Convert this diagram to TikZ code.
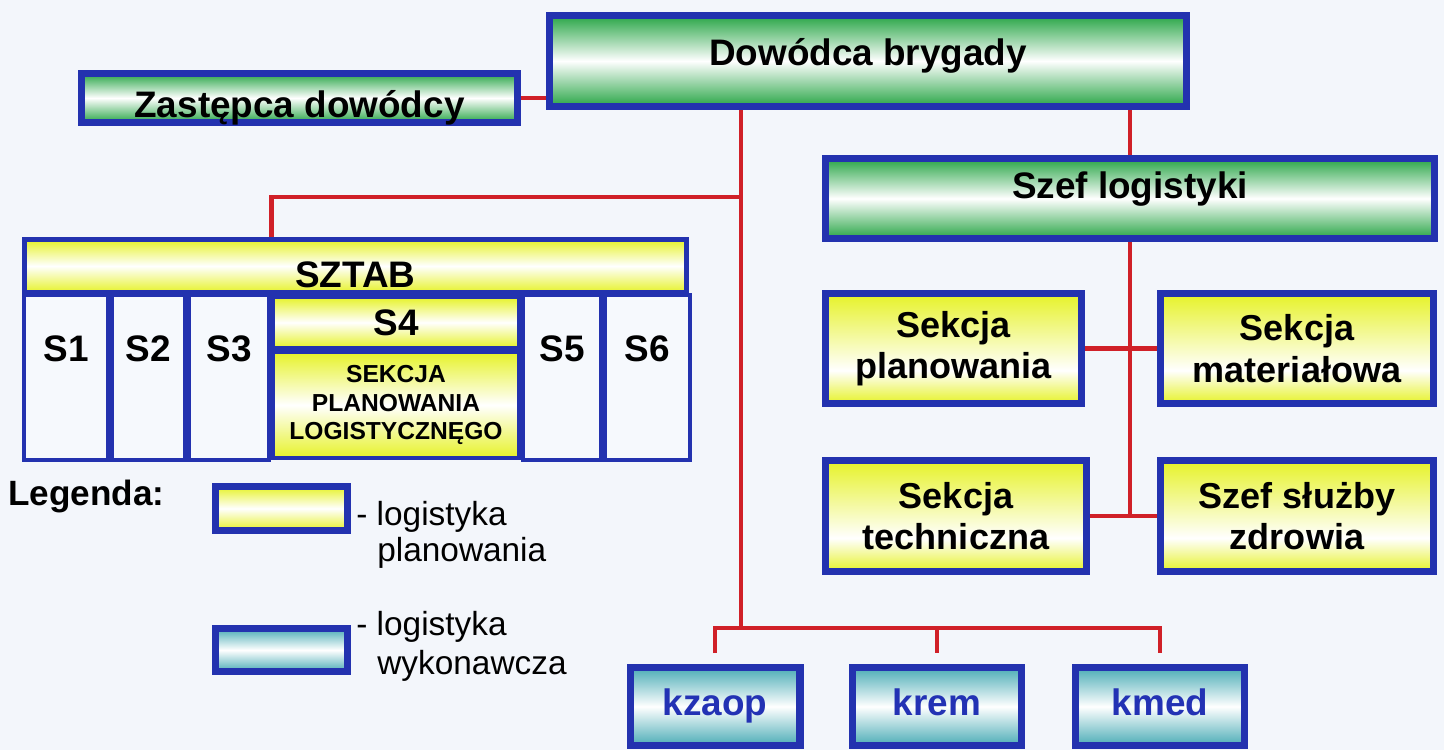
\documentclass[tikz,border=0pt]{standalone}
\usepackage{fontspec}
\setmainfont{Liberation Sans}
\definecolor{bgc}{RGB}{243,246,251}
\definecolor{bord}{RGB}{35,50,175}
\definecolor{redl}{RGB}{208,32,40}
\definecolor{grn}{RGB}{40,165,70}
\definecolor{ylw}{RGB}{230,242,40}
\definecolor{tealc}{RGB}{75,172,182}
\definecolor{txtblue}{RGB}{35,50,180}
\definecolor{colfill}{RGB}{246,249,253}
\pgfdeclareverticalshading{sekshade}{100bp}{color(0bp)=(ylw); color(25bp)=(ylw); color(40bp)=(white); color(75bp)=(ylw); color(100bp)=(ylw)}
\tikzset{
  box/.style={draw=bord, line width=4pt, inner sep=0pt, font=\bfseries\fontsize{21}{25}\selectfont},
  greenbox/.style={box, top color=grn, bottom color=grn, middle color=white},
  yellowbox/.style={box, top color=ylw, bottom color=ylw, middle color=white},
  tealbox/.style={box, top color=tealc, bottom color=tealc, middle color=white, text=txtblue, text height=15pt, text depth=4.5pt},
  colbox/.style={draw=bord, line width=2pt, fill=colfill, inner sep=0pt, minimum height=3.3cm,
     font=\bfseries\fontsize{21}{25}\selectfont, text height=15pt, text depth=33pt},
  lift/.style={text height=15pt, text depth=#1},
  conn/.style={draw=redl, line width=2.6pt, line join=miter},
  legtext/.style={anchor=base west, inner sep=0pt, font=\fontsize{19}{21}\selectfont},
  sek/.style={box, shading=sekshade, align=center, font=\bfseries\fontsize{20.5}{23.5}\selectfont}
}
\begin{document}
\begin{tikzpicture}[x=0.02cm, y=-0.02cm]
\useasboundingbox[fill=bgc] (0,0) rectangle (1444,750);

% top level
\node[greenbox, lift=9.6pt, minimum width=12.74cm, minimum height=1.82cm] (dow) at (868,61) {Dowódca brygady};
\node[greenbox, text height=22pt, text depth=0pt, minimum width=8.72cm, minimum height=0.98cm] (zas) at (299.5,98) {Zastępca dowódcy};
\node[greenbox, lift=15.4pt, minimum width=12.18cm, minimum height=1.6cm] (szef) at (1130,198.5) {Szef logistyki};

% sztab
\node[yellowbox, line width=3pt, text height=24pt, text depth=0pt, minimum width=13.24cm, minimum height=1.06cm] (sztab) at (355.5,266) {SZTAB};
\node[colbox, minimum width=1.68cm] (s1) at (66,377.5) {S1};
\node[colbox, minimum width=1.46cm] (s2) at (148.5,377.5) {S2};
\node[colbox, minimum width=1.60cm] (s3) at (229,377.5) {S3};
\node[colbox, minimum width=1.56cm] (s5) at (562,377.5) {S5};
\node[colbox, minimum width=1.70cm] (s6) at (647.5,377.5) {S6};
\node[yellowbox, line width=2pt, minimum width=4.92cm, minimum height=1.02cm] (s4h) at (396,322.5) {S4};
\node[yellowbox, line width=2pt, align=center, font=\bfseries\fontsize{14}{16}\selectfont, minimum width=4.92cm, minimum height=2.12cm] (s4s) at (396,405) {SEKCJA\\PLANOWANIA\\LOGISTYCZNĘGO};

% logistics sections
\node[sek, minimum width=5.12cm, minimum height=2.2cm] (sp) at (953.5,348.5) {Sekcja\\planowania};
\node[sek, minimum width=5.46cm, minimum height=2.2cm] (sm) at (1297,348.5) {Sekcja\\materiałowa};
\node[sek, minimum width=5.22cm, minimum height=2.22cm] (st) at (956,516) {Sekcja\\techniczna};
\node[sek, minimum width=5.46cm, minimum height=2.22cm] (sz) at (1297,516) {Szef służby\\zdrowia};

% executive units
\node[tealbox, minimum width=3.40cm, minimum height=1.56cm] (kz) at (715,706.5) {kzaop};
\node[tealbox, minimum width=3.38cm, minimum height=1.56cm] (kr) at (937,706.5) {krem};
\node[tealbox, minimum width=3.38cm, minimum height=1.56cm] (km) at (1160,706.5) {kmed};

% legend
\node[anchor=base west, inner sep=0pt, font=\bfseries\fontsize{20}{24}\selectfont] (legt) at (8,505) {Legenda:};
\node[yellowbox, minimum width=2.64cm, minimum height=0.88cm] (ly) at (281.5,508.5) {};
\node[tealbox, minimum width=2.64cm, minimum height=0.86cm, text height=0pt, text depth=0pt] (lt) at (281.5,650) {};
\node[legtext] (ly1) at (356,525) {- logistyka};
\node[legtext] (ly2) at (377,561) {planowania};
\node[legtext] (lt1) at (356,635) {- logistyka};
\node[legtext] (lt2) at (377,674) {wykonawcza};

% connectors
\coordinate (jb) at (741,628);
\coordinate (jst) at (741,197);
\draw[conn] (zas.east) -- (zas.east -| dow.west);
\draw[conn] (dow.south -| jb) -- (jb);
\draw[conn] (jst) -| (s4h.west |- sztab.north);
\draw[conn] (szef.north |- dow.south) -- (szef.north);
\draw[conn] (szef.south) -- (szef.south |- st.east);
\draw[conn] (sp.east) -- (sm.west);
\draw[conn] (st.east) -- (sz.west);
\draw[conn] ([yshift=0.22cm]kz.north) -- (kz.north |- jb) -- (km.north |- jb) -- ([yshift=0.22cm]km.north);
\draw[conn] (kr.north |- jb) -- ([yshift=0.22cm]kr.north);
\end{tikzpicture}
\end{document}
